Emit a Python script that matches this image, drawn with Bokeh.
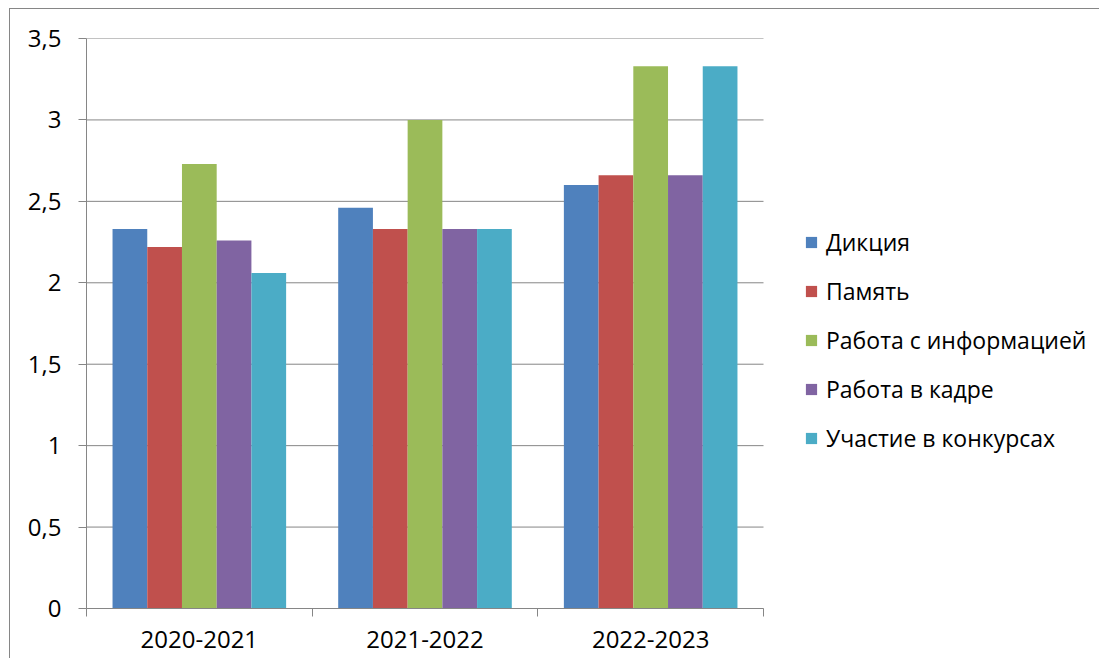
from bokeh.plotting import figure
from bokeh.models import ColumnDataSource, FixedTicker, Legend, LegendItem, Range1d
from bokeh.transform import dodge
from bokeh.embed import file_html
from bokeh.resources import INLINE

categories = ["2020-2021", "2021-2022", "2022-2023"]
series_names = ["Дикция", "Память", "Работа с информацией", "Работа в кадре", "Участие в конкурсах"]
dikciya = [2.33, 2.46, 2.60]
pamyat = [2.22, 2.33, 2.66]
rabota_info = [2.73, 3.00, 3.33]
rabota_kadr = [2.26, 2.33, 2.66]
uchastie = [2.06, 2.33, 3.33]
y_ticks = [0, 0.5, 1, 1.5, 2, 2.5, 3, 3.5]
y_tick_labels = ["0", "0,5", "1", "1,5", "2", "2,5", "3", "3,5"]

colors = ["#4F81BD", "#C0504D", "#9BBB59", "#8064A2", "#4BACC6"]
FONT = "Open Sans"
GRAY = "#868686"

# layout (pixels)
FIG_W, FIG_H = 1090, 650
LEFT, TOP, BOTTOM = 76, 29, 51
PLOT_W = 677            # width of the bar area
FRAME_W = FIG_W - LEFT  # frame runs to the right edge so the legend fits inside it

n_cat = len(categories)
x_end = n_cat * FRAME_W / PLOT_W

centers = [i + 0.5 for i in range(n_cat)]
source = ColumnDataSource(dict(x=centers, s0=dikciya, s1=pamyat, s2=rabota_info,
                               s3=rabota_kadr, s4=uchastie))

p = figure(width=FIG_W, height=FIG_H, output_backend="svg", toolbar_location=None,
           x_range=Range1d(0, x_end), y_range=Range1d(0, 3.5),
           min_border_left=LEFT, min_border_right=0, min_border_top=TOP, min_border_bottom=BOTTOM)
p.outline_line_color = None
p.styles = {"margin-left": "9px", "margin-top": "8px",
            "border-left": "1px solid #868686", "border-top": "1px solid #868686"}

# horizontal grid lines limited to the bar area
p.xgrid.grid_line_color = None
p.ygrid.grid_line_color = None
p.segment(x0=[0] * len(y_ticks), x1=[n_cat] * len(y_ticks), y0=y_ticks, y1=y_ticks,
          line_color=GRAY, line_width=1)

bw = 1 / 6.5
renderers = []
for i, col in enumerate(["s0", "s1", "s2", "s3", "s4"]):
    r = p.vbar(x=dodge("x", (i - 2) * bw, range=p.x_range), top=col, width=bw, bottom=0,
               source=source, fill_color=colors[i], line_color=None)
    renderers.append(r)

# axes
p.xaxis.bounds = (0, n_cat)
p.xaxis.ticker = FixedTicker(ticks=centers, minor_ticks=[float(i) for i in range(n_cat + 1)])
p.xaxis.major_label_overrides = {c: lab for c, lab in zip(centers, categories)}
p.xaxis.major_tick_out = 0
p.xaxis.major_tick_in = 0
p.xaxis.minor_tick_out = 8
p.xaxis.minor_tick_in = 0
p.xaxis.minor_tick_line_color = GRAY
p.xaxis.axis_line_color = GRAY
p.xaxis.major_label_standoff = 14
p.xaxis.major_label_text_font = FONT
p.xaxis.major_label_text_font_size = "24px"
p.xaxis.major_label_text_color = "#000000"

p.yaxis.ticker = FixedTicker(ticks=y_ticks)
p.yaxis.major_label_overrides = {t: lab for t, lab in zip(y_ticks, y_tick_labels)}
p.yaxis.major_tick_out = 8
p.yaxis.major_tick_in = 0
p.yaxis.minor_tick_line_color = None
p.yaxis.major_tick_line_color = GRAY
p.yaxis.axis_line_color = GRAY
p.yaxis.major_label_standoff = 17
p.yaxis.major_label_text_font = FONT
p.yaxis.major_label_text_font_size = "24px"
p.yaxis.major_label_text_color = "#000000"

legend = Legend(items=[LegendItem(label=n, renderers=[r]) for n, r in zip(series_names, renderers)],
                location=(718, 154), padding=0, margin=0, spacing=17,
                glyph_width=14, glyph_height=14, label_standoff=8, label_height=22,
                label_text_font=FONT, label_text_font_size="23px", label_text_color="#000000",
                border_line_color=None, background_fill_alpha=0)
p.add_layout(legend, "center")

open("out.html", "w").write(file_html(p, INLINE))
